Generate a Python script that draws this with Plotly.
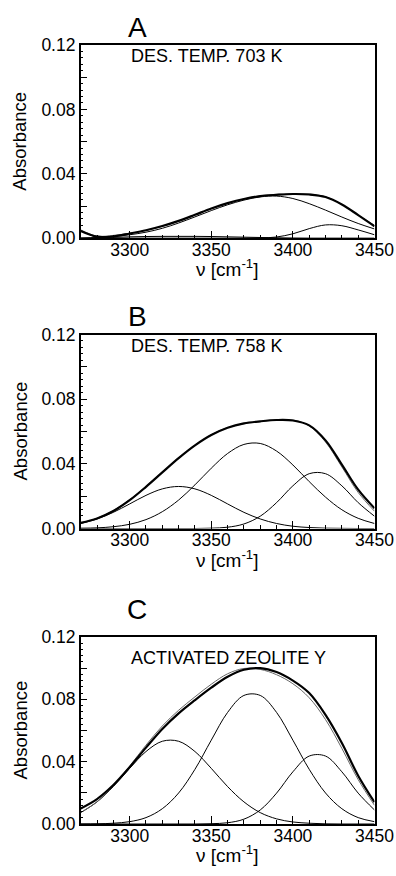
import plotly.graph_objects as go

W, H = 396, 876

# ---- data ----
wn = [3270, 3280, 3290, 3300, 3310, 3320, 3330, 3340, 3350, 3360,
      3370, 3380, 3390, 3400, 3410, 3420, 3430, 3440, 3450]

# Panel A: desorption temperature 703 K
a_meas = [.0045, .0010, .0012, .0030, .0050, .0076, .0108, .0146, .0185, .0218,
          .0244, .0262, .0270, .0275, .0272, .0256, .0210, .0144, .0075]
a_fit = [.0052, .0014, .0018, .0031, .0049, .0074, .0107, .0145, .0183, .0217,
         .0244, .0264, .0273, .0276, .0275, .0258, .0210, .0144, .0080]
a_edge = [.0050, .0006, .0001, 0, 0, 0, 0, 0, 0, 0, 0, 0, 0, 0, 0, 0, 0, 0, 0]
a_low = [0, .0003, .0006, .0009, .0011, .0012, .0012, .0012, .0011, .0009,
         .0007, .0005, .0003, .0001, 0, 0, 0, 0, 0]
a_mid = [.0002, .0005, .0011, .0022, .0038, .0062, .0095, .0133, .0172, .0208,
         .0237, .0257, .0262, .0247, .0215, .0175, .0132, .0092, .0058]
a_high = [0, 0, 0, 0, 0, 0, 0, 0, 0, 0, 0, .0002, .0008, .0028, .0060, .0083,
          .0078, .0052, .0022]

# Panel B: desorption temperature 758 K
b_meas = [.0035, .0062, .0108, .0175, .0258, .0347, .0435, .0514, .0578, .0623,
          .0650, .0663, .0671, .0668, .0638, .0545, .0395, .0240, .0125]
b_fit = [.0033, .0063, .0111, .0178, .0260, .0349, .0436, .0515, .0580, .0624,
         .0648, .0661, .0670, .0671, .0635, .0535, .0381, .0223, .0107]
b_low = [.0031, .0059, .0100, .0152, .0205, .0245, .0260, .0245, .0205, .0152,
         .0100, .0059, .0031, .0014, .0006, .0002, .0001, 0, 0]
b_mid = [.0002, .0004, .0011, .0026, .0055, .0104, .0176, .0270, .0373, .0464,
         .0520, .0526, .0479, .0393, .0290, .0194, .0116, .0063, .0031]
b_high = [0, 0, 0, 0, 0, 0, 0, 0, .0002, .0008, .0028, .0076, .0160, .0264,
          .0339, .0339, .0264, .0160, .0076]

# Panel C: activated zeolite Y
c_meas = [.0100, .0160, .0250, .0365, .0490, .0610, .0710, .0795, .0875, .0945,
          .0990, .1000, .0975, .0920, .0840, .0700, .0520, .0310, .0140]
c_fit = [.0073, .0143, .0245, .0372, .0506, .0629, .0730, .0816, .0897, .0964,
         .0998, .0992, .0958, .0900, .0810, .0670, .0485, .0285, .0120]
c_low = [.0073, .0142, .0240, .0357, .0465, .0531, .0531, .0465, .0357, .0240,
         .0142, .0073, .0033, .0013, .0005, .0001, 0, 0, 0]
c_mid = [0, .0001, .0005, .0015, .0041, .0098, .0199, .0351, .0538, .0716,
         .0825, .0825, .0716, .0538, .0351, .0199, .0098, .0041, .0015]
c_high = [0, 0, 0, 0, 0, 0, 0, 0, .0002, .0008, .0031, .0090, .0198, .0335,
          .0436, .0436, .0335, .0198, .0090]

panel_letters = ["A", "B", "C"]
panel_labels = ["DES. TEMP. 703 K", "DES. TEMP. 758 K", "ACTIVATED ZEOLITE Y"]
x_ticks = [3300, 3350, 3400, 3450]
y_ticks = [0.0, 0.02, 0.04, 0.06, 0.08, 0.10, 0.12]
y_ticktext = ["0.00", "", "0.04", "", "0.08", "", "0.12"]

panels = [
    dict(meas=a_meas, fit=a_fit, comps=[a_edge, a_low, a_mid, a_high]),
    dict(meas=b_meas, fit=b_fit, comps=[b_low, b_mid, b_high]),
    dict(meas=c_meas, fit=c_fit, comps=[c_low, c_mid, c_high]),
]

# ---- layout geometry (pixels) ----
FONT = "Liberation Sans, Arial, sans-serif"
x_left, x_right = 80.7, 374.5
boxes = [(45, 238.3), (334.5, 528.5), (637, 824)]  # (top, bottom) pixel rows
letter_rows = [27, 316, 609]                          # centre rows of A, B, C


def px(xp):
    return xp / W


def py(yp):
    return 1 - yp / H


fig = go.Figure()
annotations = []

for i, (p, (top, bot)) in enumerate(zip(panels, boxes)):
    n = "" if i == 0 else str(i + 1)
    xa, ya = "x" + n, "y" + n
    for comp in p["comps"]:
        fig.add_trace(go.Scatter(x=wn, y=comp, xaxis=xa, yaxis=ya, mode="lines",
                                 line=dict(color="black", width=1, shape="spline", smoothing=1),
                                 showlegend=False, hoverinfo="skip"))
    fig.add_trace(go.Scatter(x=wn, y=p["fit"], xaxis=xa, yaxis=ya, mode="lines",
                             line=dict(color="#666666", width=1, shape="spline", smoothing=1),
                             showlegend=False, hoverinfo="skip"))
    fig.add_trace(go.Scatter(x=wn, y=p["meas"], xaxis=xa, yaxis=ya, mode="lines",
                             line=dict(color="black", width=2.2, shape="spline", smoothing=1),
                             showlegend=False, hoverinfo="skip"))

    common = dict(showline=True, linecolor="black", linewidth=1.5, mirror=True,
                  ticks="inside", tickcolor="black", tickwidth=1, showgrid=False,
                  zeroline=False, automargin=False,
                  tickfont=dict(family=FONT, size=17.5, color="black"))
    fig.layout["xaxis" + n] = dict(
        domain=[px(x_left), px(x_right)], anchor=ya, range=[3270, 3450],
        tickmode="array", tickvals=x_ticks, ticktext=[str(v) for v in x_ticks], ticklen=8,
        ticklabelstandoff=-5,
        minor=dict(tickmode="linear", tick0=3270, dtick=10, ticks="inside", ticklen=4,
                   tickcolor="black", tickwidth=1, showgrid=False),
        **common)
    fig.layout["yaxis" + n] = dict(
        domain=[py(bot), py(top)], anchor=xa, range=[0, 0.12],
        tickmode="array", tickvals=y_ticks, ticktext=y_ticktext, ticklen=7,
        minor=dict(tickmode="linear", tick0=0, dtick=0.004, ticks="inside", ticklen=3,
                   tickcolor="black", tickwidth=1, showgrid=False),
        **common)

    # panel letter
    annotations.append(dict(text=panel_letters[i], x=px(137), y=py(letter_rows[i]),
                            xref="paper", yref="paper", showarrow=False,
                            xanchor="center", yanchor="middle",
                            font=dict(family=FONT, size=28, color="black")))
    # inner label
    annotations.append(dict(text=panel_labels[i], x=px(129), y=py(top + (21 if i == 2 else 11)),
                            xref="paper", yref="paper", showarrow=False,
                            xanchor="left", yanchor="middle",
                            font=dict(family=FONT, size=18, color="black")))
    # y title
    annotations.append(dict(text="Absorbance", x=px(20), y=py((top + bot) / 2),
                            xref="paper", yref="paper", showarrow=False, textangle=-90,
                            xanchor="center", yanchor="middle",
                            font=dict(family=FONT, size=18.5, color="black")))
    # x title
    annotations.append(dict(text="ν [cm<sup>-1</sup>]", x=px((x_left + x_right) / 2),
                            y=py(bot + 30), xref="paper", yref="paper", showarrow=False,
                            xanchor="center", yanchor="middle",
                            font=dict(family=FONT, size=19, color="black")))

fig.update_layout(width=W, height=H, margin=dict(l=0, r=0, t=0, b=0),
                  paper_bgcolor="white", plot_bgcolor="white",
                  annotations=annotations, showlegend=False)

fig.write_html("out.html", config={"displayModeBar": False})

# remove the browser's default page margin so the figure fills the window exactly
with open("out.html", "r", encoding="utf-8") as f:
    html = f.read()
html = html.replace("<head>", "<head><style>html,body{margin:0;padding:0;overflow:hidden;}</style>", 1)
with open("out.html", "w", encoding="utf-8") as f:
    f.write(html)
